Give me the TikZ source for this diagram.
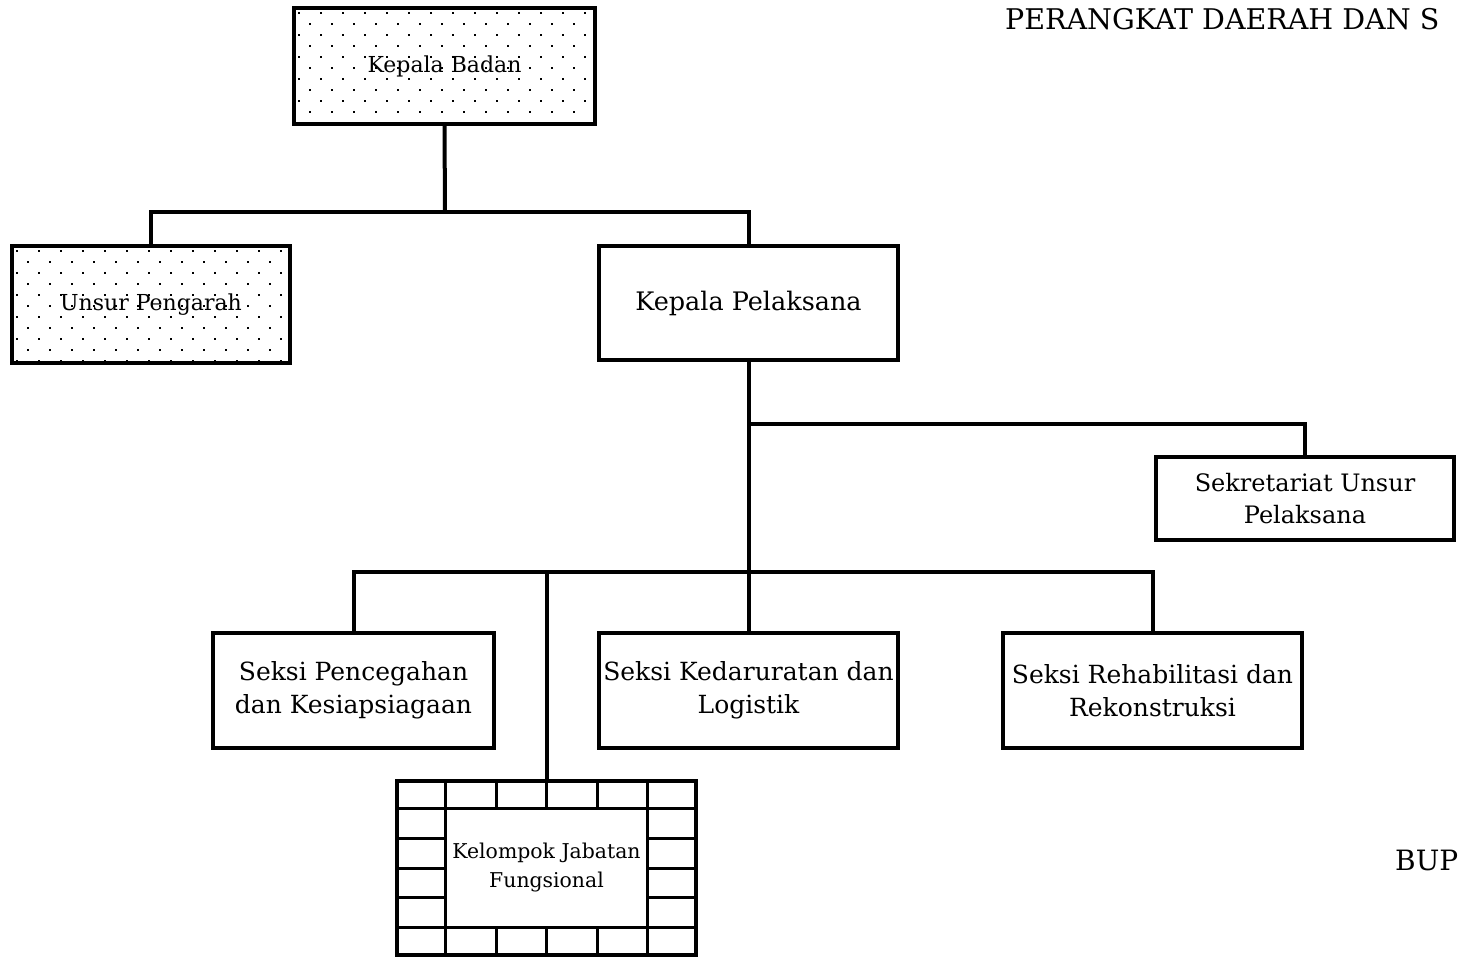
\documentclass[tikz,border=0pt]{standalone}
\usepackage{fontspec}
\setmainfont{DejaVu Serif}
\usetikzlibrary{calc}
\tikzset{
  box/.style={draw, line width=4pt, rectangle, inner sep=0pt, align=center},
  conn/.style={line width=4pt},
  grid/.style={line width=3pt},
  dotted box/.style={path picture={
     \foreach \r in {0,...,11} \foreach \c in {0,...,14}
       \fill ($(path picture bounding box.north west)+({\c*22+mod(\r,2)*11+4},{\r*11+4})$) rectangle ++(2.2,2.2);
  }},
  fA/.style={font=\fontsize{22}{26}\selectfont},
  fK/.style={font=\fontsize{25.5}{30}\selectfont},
  fB/.style={font=\fontsize{25}{33}\selectfont},
  fS/.style={font=\fontsize{24}{32}\selectfont},
  fC/.style={font=\fontsize{20.4}{29}\selectfont},
}
\begin{document}
\begin{tikzpicture}[x=1pt,y=-1pt]
\path[use as bounding box, clip] (0,0) rectangle (1460,961);
\fill[white] (0,0) rectangle (1460,961);

% nodes
\node[box, dotted box, fA, minimum width=301, minimum height=116] (kb) at (444.5,66) {Kepala Badan};
\node[box, dotted box, fA, minimum width=278, minimum height=117] (up) at (151,304.5) {Unsur Pengarah};
\node[box, fK, minimum width=299, minimum height=114] (kp) at (748.5,303) {Kepala Pelaksana};
\node[box, fS, minimum width=298, minimum height=83] (sek) at (1305,498.5) {Sekretariat Unsur\\Pelaksana};
\node[box, fB, minimum width=281, minimum height=115] (sp) at (353.5,690.5) {Seksi Pencegahan\\dan Kesiapsiagaan};
\node[box, fB, minimum width=299, minimum height=115] (sk) at (748.5,690.5) {Seksi Kedaruratan dan\\Logistik};
\node[box, fB, minimum width=299, minimum height=115] (sr) at (1152.5,690.5) {Seksi Rehabilitasi dan\\Rekonstruksi};
\node[box, fC, minimum width=299, minimum height=174] (kel) at (546.5,868) {Kelompok Jabatan\\Fungsional};

% grid of the Kelompok box
\begin{scope}[shift={(kel.north west)}]
  \foreach \k in {1,...,5} {
    \draw[grid] ({\k*50.5},0) -- ({\k*50.5},29.7);
    \draw[grid] ({\k*50.5},148.3) -- ({\k*50.5},178);
  }
  \draw[grid] (50.5,0) -- (50.5,178);
  \draw[grid] (252.5,0) -- (252.5,178);
  \draw[grid] (0,29.7) -- (303,29.7);
  \draw[grid] (0,148.3) -- (303,148.3);
  \foreach \y in {59.3,89,118.7} {
    \draw[grid] (0,\y) -- (50.5,\y);
    \draw[grid] (252.5,\y) -- (303,\y);
  }
\end{scope}
\node[box, line width=4pt, minimum width=299, minimum height=174] at (kel.center) {};

% connectors
\coordinate (j1) at (445,212);
\coordinate (j2) at (748.5,424);
\coordinate (j3) at (748.5,572);
\draw[conn] (kb.south) -- (j1);
\draw[conn] (up.north) |- (j1) -| (kp.north);
\draw[conn] (kp.south) -- (sk.north);
\draw[conn] (j2) -| (sek.north);
\draw[conn] (sp.north) |- (j3) -| (sr.north);
\draw[conn] (kel.north) -- (kel.north |- j3);

% header / footer texts (as far as the picture shows them)
\node[anchor=base west, inner sep=0pt, font=\fontsize{28.5}{32}\selectfont] (title) at (1005,30) {PERANGKAT DAERAH DAN S};
\node[anchor=base west, inner sep=0pt, font=\fontsize{28}{32}\selectfont] (bup) at (1395,870) {BUP};
\end{tikzpicture}
\end{document}
